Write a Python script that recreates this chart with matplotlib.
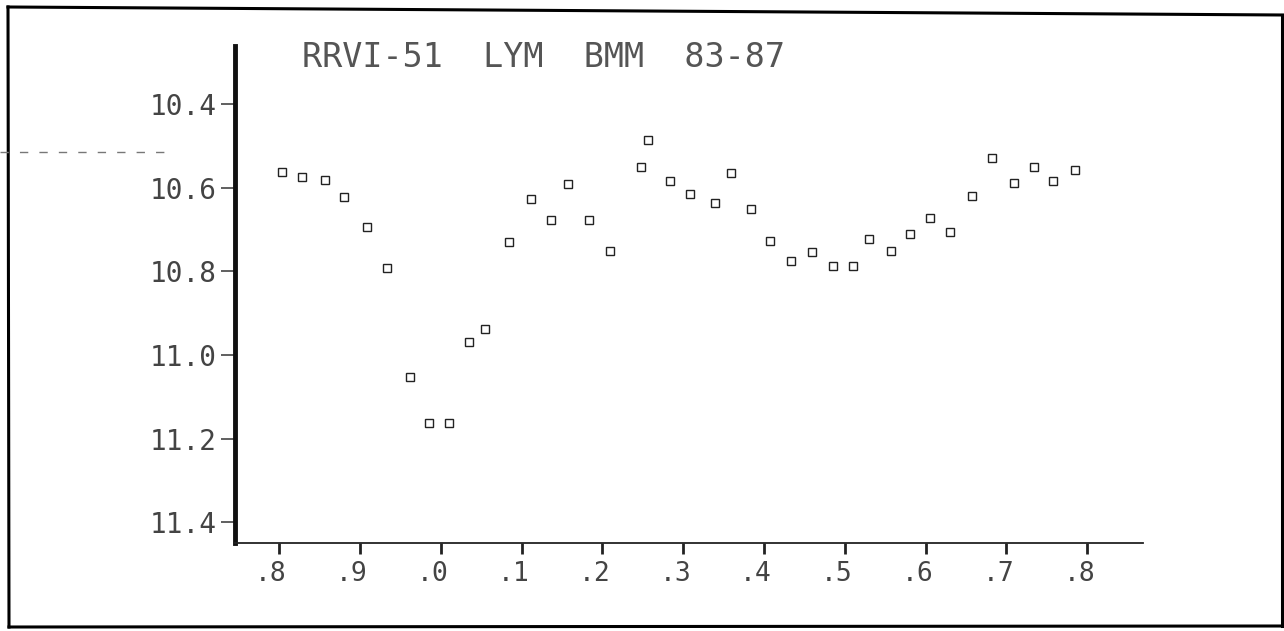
import matplotlib
matplotlib.use("Agg")
import matplotlib.pyplot as plt
from matplotlib.lines import Line2D
from matplotlib.transforms import ScaledTranslation

# phase / magnitude
phase = [0.804, 0.828, 0.857, 0.880, 0.909, 0.933, 0.962, 0.986, 1.010, 1.035,
         1.055, 1.084, 1.112, 1.137, 1.157, 1.184, 1.209, 1.248, 1.256, 1.284,
         1.308, 1.339, 1.359, 1.384, 1.407, 1.434, 1.459, 1.486, 1.510, 1.530,
         1.557, 1.581, 1.606, 1.630, 1.657, 1.682, 1.709, 1.734, 1.758, 1.785]
mag = [10.562, 10.575, 10.582, 10.622, 10.694, 10.792, 11.052, 11.162, 11.162, 10.969,
       10.938, 10.729, 10.626, 10.678, 10.592, 10.678, 10.752, 10.550, 10.486, 10.583,
       10.616, 10.636, 10.564, 10.650, 10.728, 10.776, 10.755, 10.787, 10.787, 10.723,
       10.751, 10.711, 10.672, 10.706, 10.621, 10.530, 10.588, 10.550, 10.583, 10.557]

xticks = [0.8, 0.9, 1.0, 1.1, 1.2, 1.3, 1.4, 1.5, 1.6, 1.7, 1.8]
xlabels = [".8", ".9", ".0", ".1", ".2", ".3", ".4", ".5", ".6", ".7", ".8"]
yticks = [10.4, 10.6, 10.8, 11.0, 11.2, 11.4]
ylabels = ["10.4", "10.6", "10.8", "11.0", "11.2", "11.4"]
title = "RRVI-51  LYM  BMM  83-87"

W, H = 1284, 631
mono = "DejaVu Sans Mono"

fig = plt.figure(figsize=(W / 100, H / 100), dpi=100)
ax = fig.add_axes([235 / W, 1 - 543 / H, (1143 - 235) / W, (543 - 46) / H])

ax.plot(phase, mag, linestyle="none", marker="s", markersize=5.5,
        markerfacecolor="none", markeredgecolor="#222222", markeredgewidth=1.0)

ax.set_xlim(0.7455, 1.869)
ax.set_ylim(11.450, 10.261)

ax.set_xticks(xticks)
ax.set_xticklabels(xlabels, family=mono, fontsize=19, color="#444444")
ax.set_yticks(yticks)
ax.set_yticklabels(ylabels, family=mono, fontsize=20, color="#444444")
ax.tick_params(axis="x", direction="out", length=8, width=2, pad=5, color="#222222")
ax.tick_params(axis="y", direction="out", length=10, width=1.2, pad=3, color="#444444")

# shift the x labels so the digit sits under the tick
shift = ScaledTranslation(-8 / 100, 0, fig.dpi_scale_trans)
for lab in ax.get_xticklabels():
    lab.set_transform(lab.get_transform() + shift)

for s in ["top", "right"]:
    ax.spines[s].set_visible(False)
ax.spines["left"].set_linewidth(3.5)
ax.spines["left"].set_color("#111111")
ax.spines["bottom"].set_linewidth(1.3)
ax.spines["bottom"].set_linestyle((0, (1, 1)))
ax.spines["bottom"].set_color("#222222")

ax.set_title(title, loc="left", x=(302 - 235) / (1143 - 235), y=(543 - 66) / (543 - 46),
             va="center", family=mono, fontsize=24, color="#555555")

# outer frame of the printout
def px(x, y):
    return x / W, 1 - y / H

for (x0, y0), (x1, y1) in [((8, 7), (1284, 15)), ((8, 7), (9, 627)),
                           ((9, 627), (1284, 626)), ((1282, 15), (1282, 626))]:
    a, b = px(x0, y0), px(x1, y1)
    fig.add_artist(Line2D([a[0], b[0]], [a[1], b[1]], transform=fig.transFigure,
                          color="black", lw=2.2))

# faint scan artifact on the left
a, b = px(0, 152), px(165, 152)
fig.add_artist(Line2D([a[0], b[0]], [a[1], b[1]], transform=fig.transFigure,
                      color="#777777", lw=1, linestyle=(0, (6, 8))))

fig.savefig("out.png", dpi=100)
